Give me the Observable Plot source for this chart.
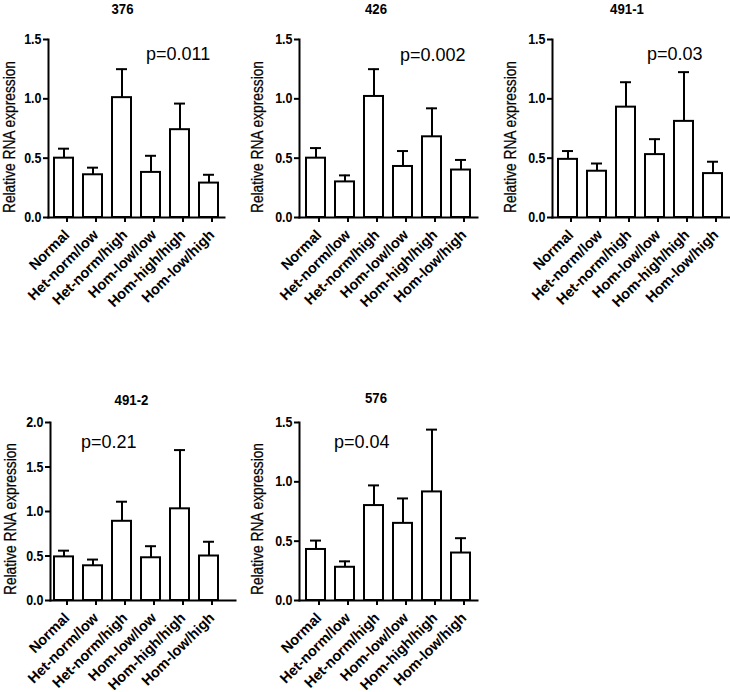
<!DOCTYPE html>
<html><head><meta charset="utf-8">
<script src="https://cdn.jsdelivr.net/npm/d3@7"></script>
<script src="https://cdn.jsdelivr.net/npm/@observablehq/plot@0.6"></script>
<style>
body{margin:0;background:#fff;}
#root{position:relative;width:730px;height:692px;background:#fff;overflow:hidden;}
.panel{position:absolute;}
#overlay{position:absolute;left:0;top:0;pointer-events:none;}
</style></head>
<body><div id="root"></div>
<script>
const groups = ["Normal","Het-norm/low","Het-norm/high","Hom-low/low","Hom-high/high","Hom-low/high"];
const panelNames = ["376","426","491-1","491-2","576"];
const pLabels = ["p=0.011","p=0.002","p=0.03","p=0.21","p=0.04"];
const yMax = [1.5,1.5,1.5,2.0,1.5];
const yLabel = "Relative RNA expression";
const mean376 = [0.50,0.36,1.01,0.38,0.74,0.29];
const sem376  = [0.08,0.06,0.24,0.14,0.22,0.07];
const mean426 = [0.50,0.30,1.02,0.43,0.68,0.40];
const sem426  = [0.085,0.055,0.23,0.13,0.24,0.085];
const mean4911 = [0.49,0.39,0.93,0.53,0.81,0.37];
const sem4911  = [0.07,0.065,0.21,0.13,0.415,0.10];
const mean4912 = [0.49,0.39,0.89,0.48,1.03,0.50];
const sem4912  = [0.07,0.07,0.22,0.13,0.66,0.16];
const mean576 = [0.43,0.28,0.80,0.65,0.915,0.40];
const sem576  = [0.075,0.05,0.17,0.21,0.525,0.125];

const means = [mean376, mean426, mean4911, mean4912, mean576];
const sems = [sem376, sem426, sem4911, sem4912, sem576];

// layout: panel svg position, frame (axis) extents in svg coords, band range
const layout = [
  {left:0,   top:0,   ml:48, fr:224, xr:[47.5,224], titleX:122.5, titleY:14,  labX:15,  labY:137, pAt:["Hom-low/low",1.38], pdx:-5},
  {left:250, top:0,   ml:49, fr:227, xr:[48.5,227], titleX:376,   titleY:14,  labX:263, labY:137, pAt:["Hom-low/low",1.37], pdx:-3},
  {left:504, top:0,   ml:48, fr:226, xr:[47.5,224.5], titleX:627, titleY:14,  labX:516, labY:137, pAt:["Hom-low/low",1.38], pdx:-8},
  {left:0,   top:383, ml:50, fr:235, xr:[47.5,224], titleX:131.5, titleY:405, labX:16,  labY:519, pAt:["Het-norm/low",1.78], pdx:-12},
  {left:250, top:383, ml:49, fr:227, xr:[48.5,227], titleX:376,   titleY:403, labX:263, labY:519, pAt:["Het-norm/low",1.33], pdx:-11}
];

const FONT = '"Liberation Sans",Arial,Helvetica,sans-serif';
const root = document.getElementById("root");
const W = 232;

function condense(nodes, k) {
  nodes.forEach(t => {
    const len = t.getComputedTextLength();
    t.setAttribute("textLength", (len * k).toFixed(1));
    t.setAttribute("lengthAdjust", "spacingAndGlyphs");
  });
}

panelNames.forEach((name, i) => {
  const L = layout[i];
  const data = groups.map((g, j) => ({group: g, value: means[i][j], upper: means[i][j] + sems[i][j]}));
  const ticks = d3.range(0, yMax[i] + 0.001, 0.5);
  const width = Math.min(W, 730 - L.left);
  const chart = Plot.plot({
    width, height: 692 - L.top,
    marginLeft: L.ml, marginRight: width - L.fr, marginTop: 39, marginBottom: 692 - L.top - 217,
    style: {fontFamily: FONT, fontWeight: "bold", fontSize: "15px", color: "#000", background: "transparent", overflow: "visible"},
    x: {domain: groups, range: L.xr, paddingInner: 0.36, paddingOuter: 0.18, label: null},
    y: {domain: [0, yMax[i]], label: null},
    marks: [
      Plot.ruleX(data, {x: "group", y1: "value", y2: "upper", stroke: "#000", strokeWidth: 2}),
      Plot.tickY(data, {x: "group", y: "upper", stroke: "#000", strokeWidth: 2, insetLeft: 4, insetRight: 4}),
      Plot.barY(data, {x: "group", y: "value", fill: "#fff", stroke: "#000", strokeWidth: 2}),
      Plot.frame({anchor: "left", stroke: "#000", strokeWidth: 2}),
      Plot.frame({anchor: "bottom", stroke: "#000", strokeWidth: 2}),
      Plot.axisY({ticks, tickFormat: d => d.toFixed(1), tickSize: 5, tickPadding: 2, strokeWidth: 2, fontSize: 14.5, label: null}),
      Plot.axisX({tickRotate: -45, tickSize: 5, tickPadding: 10, dx: 3, strokeWidth: 2, fontSize: 14.5, label: null}),
      Plot.text([pLabels[i]], {x: () => L.pAt[0], y: () => L.pAt[1], text: d => d, textAnchor: "start", dx: L.pdx, fontSize: 18, fontWeight: "normal"})
    ]
  });
  const div = document.createElement("div");
  div.className = "panel";
  div.style.left = L.left + "px";
  div.style.top = L.top + "px";
  div.appendChild(chart);
  root.appendChild(div);
  // the reference uses a narrow face: condense y tick labels
  condense(chart.querySelectorAll('g[aria-label="y-axis tick label"] text'), 0.86);
});

// overlay: panel titles and y-axis titles
const ov = d3.select(root).append("svg").attr("id", "overlay").attr("width", 730).attr("height", 692);
panelNames.forEach((name, i) => {
  const L = layout[i];
  const t = ov.append("text").attr("x", L.titleX).attr("y", L.titleY)
    .attr("text-anchor", "middle").attr("font-family", FONT).attr("font-weight", "bold")
    .attr("font-size", 15).attr("fill", "#000").text(name);
  condense([t.node()], 0.88);
  ov.append("text").attr("transform", `translate(${L.labX},${L.labY}) rotate(-90)`)
    .attr("text-anchor", "middle").attr("font-family", FONT)
    .attr("font-size", 16).attr("fill", "#000").attr("stroke", "#000").attr("stroke-width", 0.25)
    .attr("textLength", 152).attr("lengthAdjust", "spacingAndGlyphs").text(yLabel);
});
</script></body></html>
